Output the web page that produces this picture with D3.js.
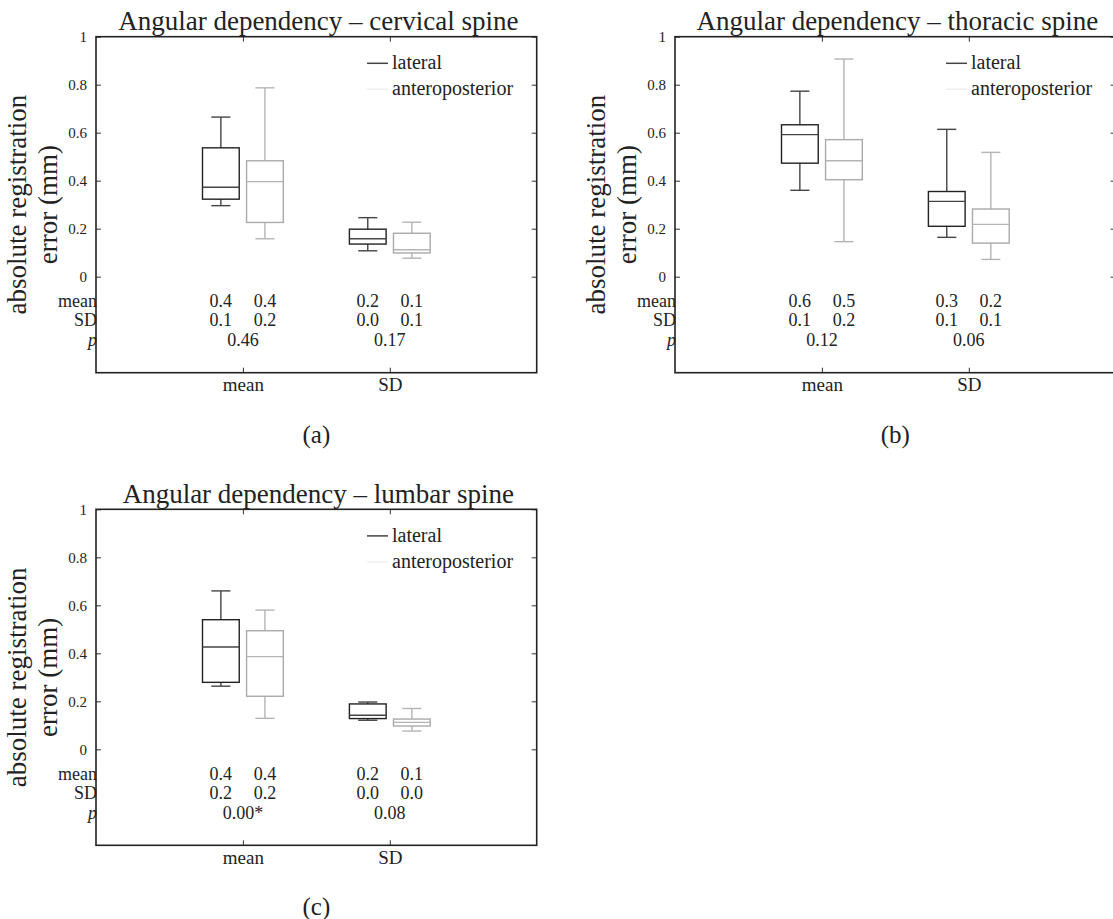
<!DOCTYPE html>
<html lang="en">
<head>
<meta charset="utf-8">
<title>Angular dependency box plots</title>
<script src="https://cdn.jsdelivr.net/npm/d3@7"></script>
<style>
  body { margin: 0; background: #fff; }
  text { font-family: "Liberation Serif", "Times New Roman", serif; fill: #222; }
</style>
</head>
<body>
<script>
// categories and series
var categories = ["mean", "SD"];
var series = ["lateral", "anteroposterior"];
var yTicks = [0, 0.2, 0.4, 0.6, 0.8, 1];
var rowLabels = ["mean", "SD", "p"];

// box stats per category: [min, q1, median, q3, max]
var cervicalLateral = [[0.296, 0.323, 0.373, 0.537, 0.665], [0.108, 0.136, 0.158, 0.198, 0.246]];
var cervicalAP      = [[0.158, 0.226, 0.396, 0.483, 0.787], [0.077, 0.099, 0.112, 0.181, 0.227]];
var thoracicLateral = [[0.360, 0.473, 0.592, 0.633, 0.773], [0.164, 0.210, 0.314, 0.355, 0.614]];
var thoracicAP      = [[0.146, 0.404, 0.483, 0.571, 0.907], [0.072, 0.140, 0.218, 0.282, 0.518]];
var lumbarLateral   = [[0.263, 0.279, 0.426, 0.540, 0.660], [0.121, 0.128, 0.142, 0.189, 0.197]];
var lumbarAP        = [[0.129, 0.221, 0.386, 0.494, 0.580], [0.076, 0.097, 0.112, 0.126, 0.170]];

// printed statistics under the boxes: [category][series]
var cervicalMean = [["0.4", "0.4"], ["0.2", "0.1"]];
var cervicalSD   = [["0.1", "0.2"], ["0.0", "0.1"]];
var cervicalP    = ["0.46", "0.17"];
var thoracicMean = [["0.6", "0.5"], ["0.3", "0.2"]];
var thoracicSD   = [["0.1", "0.2"], ["0.1", "0.1"]];
var thoracicP    = ["0.12", "0.06"];
var lumbarMean   = [["0.4", "0.4"], ["0.2", "0.1"]];
var lumbarSD     = [["0.2", "0.2"], ["0.0", "0.0"]];
var lumbarP      = ["0.00*", "0.08"];

var panels = [
  { title: "Angular dependency \u2013 cervical spine", tag: "(a)", left: 96, top: 36.7,
    boxes: [cervicalLateral, cervicalAP], mean: cervicalMean, sd: cervicalSD, p: cervicalP },
  { title: "Angular dependency \u2013 thoracic spine", tag: "(b)", left: 675, top: 36.7,
    boxes: [thoracicLateral, thoracicAP], mean: thoracicMean, sd: thoracicSD, p: thoracicP },
  { title: "Angular dependency \u2013 lumbar spine", tag: "(c)", left: 96, top: 509.3,
    boxes: [lumbarLateral, lumbarAP], mean: lumbarMean, sd: lumbarSD, p: lumbarP }
];

var width = 1113, height = 919;
var pw = 440.7, ph = 336;
var boxColor = ["#222", "#aaa"];
var whiskColor = ["#444", "#b4b4b4"];
var legendColor = ["#444", "#eee"];
var offsets = [-0.15, 0.15];
var boxW = 0.25, capW = 0.13;

var svg = d3.select("body").append("svg")
  .attr("width", width)
  .attr("height", height);

var x = d3.scaleLinear().domain([0, 3]).range([0, pw]);
var y = d3.scaleLinear().domain([-0.4, 1]).range([ph, 0]);

panels.forEach(function (P) {
  var g = svg.append("g").attr("transform", "translate(" + P.left + "," + P.top + ")");

  // axes with inward ticks
  var yl = d3.axisLeft(y).tickValues(yTicks).tickSize(-5).tickPadding(9).tickFormat(d3.format("~g"));
  var yr = d3.axisRight(y).tickValues(yTicks).tickSize(-5).tickFormat("");
  var xb = d3.axisBottom(x).tickValues([1, 2]).tickSize(-5).tickPadding(5)
    .tickFormat(function (d) { return categories[d - 1]; });
  var xt = d3.axisTop(x).tickValues([1, 2]).tickSize(-5).tickFormat("");

  function styleAxis(a) {
    a.select(".domain").remove();
    a.selectAll("line").attr("stroke", "#333").attr("stroke-width", 1);
    a.selectAll("text").attr("font-family", "Liberation Serif").attr("fill", "#222");
  }
  g.append("g").call(yl).call(styleAxis).selectAll("text").attr("font-size", 15);
  g.append("g").attr("transform", "translate(" + pw + ",0)").call(yr).call(styleAxis);
  g.append("g").attr("transform", "translate(0," + ph + ")").call(xb).call(styleAxis)
    .selectAll("text").attr("font-size", 19);
  g.append("g").call(xt).call(styleAxis);

  // frame
  g.append("rect").attr("width", pw).attr("height", ph)
    .attr("fill", "none").attr("stroke", "#222").attr("stroke-width", 1.6);

  // boxes
  P.boxes.forEach(function (ser, si) {
    ser.forEach(function (s, ci) {
      var cx = x(ci + 1 + offsets[si]);
      var bx = x(ci + 1 + offsets[si] - boxW / 2), bw = x(boxW) - x(0);
      var cw = x(capW) - x(0);
      var b = g.append("g");
      b.append("line").attr("x1", cx).attr("x2", cx).attr("y1", y(s[3])).attr("y2", y(s[4]))
        .attr("stroke", whiskColor[si]).attr("stroke-width", 1.4);
      b.append("line").attr("x1", cx).attr("x2", cx).attr("y1", y(s[0])).attr("y2", y(s[1]))
        .attr("stroke", whiskColor[si]).attr("stroke-width", 1.4);
      [s[0], s[4]].forEach(function (v) {
        b.append("line").attr("x1", cx - cw / 2).attr("x2", cx + cw / 2).attr("y1", y(v)).attr("y2", y(v))
          .attr("stroke", whiskColor[si]).attr("stroke-width", 1.4);
      });
      b.append("rect").attr("x", bx).attr("width", bw).attr("y", y(s[3])).attr("height", y(s[1]) - y(s[3]))
        .attr("fill", "none").attr("stroke", boxColor[si]).attr("stroke-width", 1.4);
      b.append("line").attr("x1", bx).attr("x2", bx + bw).attr("y1", y(s[2])).attr("y2", y(s[2]))
        .attr("stroke", whiskColor[si]).attr("stroke-width", 1.4);
    });
  });

  // statistics rows
  var rowY = [y(0) + 30.4, y(0) + 49.6, y(0) + 69.4];
  rowLabels.forEach(function (r, i) {
    g.append("text").attr("x", 1).attr("y", rowY[i]).attr("text-anchor", "end")
      .attr("font-size", 18).attr("font-style", r === "p" ? "italic" : null).text(r);
  });
  categories.forEach(function (c, ci) {
    [P.mean, P.sd].forEach(function (rows, ri) {
      rows[ci].forEach(function (v, si) {
        g.append("text").attr("x", x(ci + 1 + offsets[si])).attr("y", rowY[ri])
          .attr("text-anchor", "middle").attr("font-size", 18).text(v);
      });
    });
    g.append("text").attr("x", x(ci + 1)).attr("y", rowY[2])
      .attr("text-anchor", "middle").attr("font-size", 18).text(P.p[ci]);
  });

  // legend
  series.forEach(function (s, i) {
    var ly = 26.6 + i * 26;
    g.append("line").attr("x1", 271).attr("x2", 292).attr("y1", ly).attr("y2", ly)
      .attr("stroke", legendColor[i]).attr("stroke-width", 1.5);
    g.append("text").attr("x", 296).attr("y", ly + 6).attr("font-size", 20).text(s);
  });

  // title
  g.append("text").attr("x", pw / 2 + 2).attr("y", 30 - 36.7).attr("text-anchor", "middle")
    .attr("font-size", 27).text(P.title);

  // y label
  var yt = g.append("text").attr("transform", "translate(-70," + (ph / 2) + ") rotate(-90)")
    .attr("text-anchor", "middle").attr("font-size", 27);
  yt.append("tspan").attr("x", 0).attr("dy", 0).text("absolute registration");
  yt.append("tspan").attr("x", 0).attr("dy", 31).text("error (mm)");

  // panel tag
  g.append("text").attr("x", pw / 2).attr("y", ph + 70).attr("text-anchor", "middle")
    .attr("font-size", 25).text(P.tag);
});
</script>
</body>
</html>
